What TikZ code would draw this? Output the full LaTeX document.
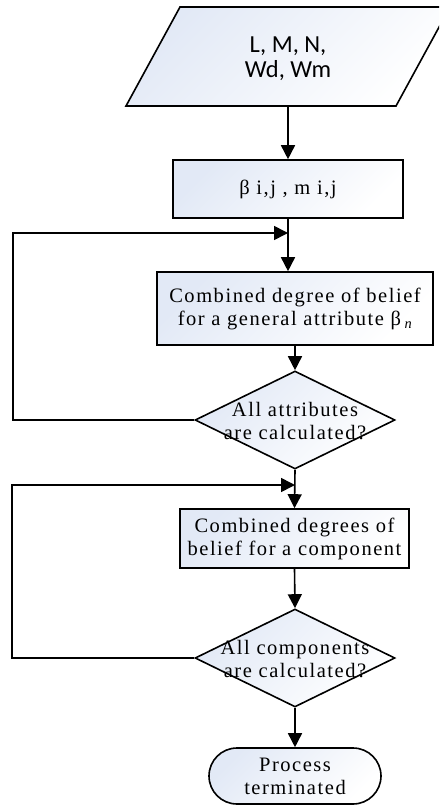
\documentclass[tikz,border=0pt]{standalone}
\usepackage{fontspec}
\setmainfont{Liberation Serif}[LetterSpace=7.5]
\newfontfamily\calib{Carlito}
\usetikzlibrary{arrows.meta,shapes.geometric}
\definecolor{shadeblue}{RGB}{226,233,246}
\newcommand\sersz{\fontsize{20.5}{23}\selectfont}
\newcommand\calsz{\calib\fontsize{24.5}{25}\selectfont}
\begin{document}
\begin{tikzpicture}[x=1pt,y=-1pt,line width=1.6pt,
  shaded/.style={top color=shadeblue,bottom color=white,shading angle=45},
  box/.style={draw,shaded,rectangle,inner sep=0pt,align=center,font=\sersz},
  dia/.style={draw,shaded,diamond,inner sep=0pt,minimum width=200pt,minimum height=98pt},
  txt/.style={inner sep=0pt,align=center,font=\sersz},
  term/.style={draw,shaded,rectangle,rounded corners=28pt,inner sep=0pt,align=center,font=\sersz,minimum width=172pt,minimum height=56pt},
  arr/.style={-{Triangle[width=14pt,length=14pt]}}]
\useasboundingbox (0,0) rectangle (439,805);
\begin{scope}
\clip (0,0) rectangle (439,805);
% input parallelogram
\path[draw,shaded] (126,106) -- (180,7) -- (450,7) -- (396,106) -- cycle;
\node[inner sep=0pt,align=center,font=\calsz,minimum height=94pt] (input) at (288,59) {L, M, N,\\Wd, Wm};
% boxes
\node[box,minimum width=230pt,minimum height=58pt] (b1) at (288,189) {β i,j , m i,j};
\node[box,minimum width=276pt,minimum height=73pt] (b2) at (295,308.5) {Combined degree of belief\\for a general attribute β\,\textsubscript{\itshape n}};
\node[dia] (d1) at (295,420) {};
\node[txt] (d1t) at (295,421) {All attributes\\are calculated?};
\node[box,minimum width=229pt,minimum height=59pt] (b3) at (294.5,538.5) {Combined degrees of\\belief for a component};
\node[dia] (d2) at (295,658) {};
\node[txt] (d2t) at (295,659) {All components\\are calculated?};
\node[term] (end) at (295,776) {Process\\terminated};
% junctions
\coordinate (j1) at (288,233);
\coordinate (j2) at (295,485);
% connectors
\draw[arr] (input.south) -- (b1.north);
\draw[arr] (b1.south) -- (b1.south |- b2.north);
\draw[arr] (b2.south) -- (d1.north);
\draw[arr] (d1.west) -- ++(-181,0) |- (j1);
\draw[arr] (d1.south) -- (b3.north);
\draw[arr] (b3.south) -- (d2.north);
\draw[arr] (d2.west) -- ++(-182,0) |- (j2);
\draw[arr] (d2.south) -- (end.north);
\end{scope}
\end{tikzpicture}
\end{document}
